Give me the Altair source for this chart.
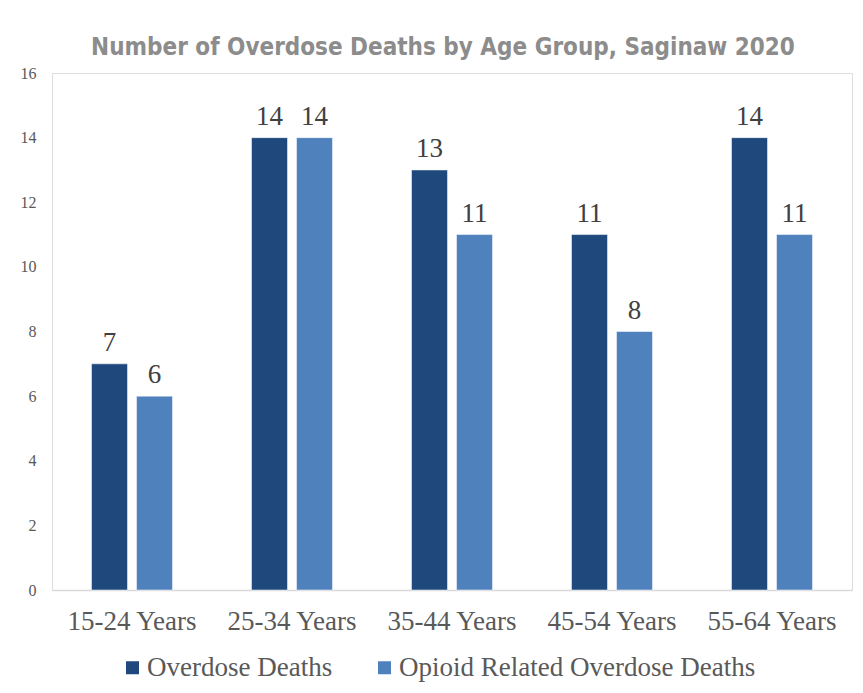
import altair as alt
import pandas as pd

ages = ["15-24 Years", "25-34 Years", "35-44 Years", "45-54 Years", "55-64 Years"]
series = ["Overdose Deaths", "Opioid Related Overdose Deaths"]
overdose = [7, 14, 13, 11, 14]
opioid = [6, 14, 11, 8, 11]
colors = ["#1f497d", "#4f81bd"]
y_ticks = [0, 2, 4, 6, 8, 10, 12, 14, 16]

rows = []
for a, v in zip(ages, overdose):
    rows.append({"age": a, "series": series[0], "value": v})
for a, v in zip(ages, opioid):
    rows.append({"age": a, "series": series[1], "value": v})
df = pd.DataFrame(rows)

serif = "Liberation Serif"

x = alt.X("age:N", sort=ages, title=None,
          scale=alt.Scale(paddingInner=0.494, paddingOuter=0.247),
          axis=alt.Axis(labelFont=serif, labelFontSize=27, labelColor="#595959",
                        labelAngle=0, labelPadding=18, ticks=False,
                        domainColor="#d9d9d9", domainWidth=1.5))
xo = alt.XOffset("series:N", sort=series,
                 scale=alt.Scale(paddingInner=0.2, paddingOuter=0))
y = alt.Y("value:Q", title=None,
          scale=alt.Scale(domain=[0, 16], nice=False),
          axis=alt.Axis(values=y_ticks, labelFont=serif, labelFontSize=16,
                        labelColor="#595959", grid=False, domain=False,
                        ticks=False, labelPadding=16))
color = alt.Color("series:N", sort=series,
                  scale=alt.Scale(domain=series, range=colors),
                  legend=alt.Legend(title=None, orient="none", direction="horizontal",
                                    legendX=67, legendY=581,
                                    labelFont=serif, labelFontSize=27,
                                    labelColor="#595959", symbolType="square",
                                    symbolSize=169, symbolStrokeWidth=0,
                                    labelOffset=1, columnPadding=38,
                                    labelLimit=600))

bars = alt.Chart(df).mark_bar(stroke="white", strokeWidth=0.5).encode(
    x=x, xOffset=xo, y=y, color=color)

labels = alt.Chart(df).mark_text(font=serif, fontSize=27, color="#404040",
                                 baseline="alphabetic", dy=-13).encode(
    x=x, xOffset=xo, y=y, text="value:Q")

chart = alt.layer(bars, labels).properties(
    width=800, height=517,
    autosize=alt.AutoSizeParams(type="none"),
    padding={"left": 44, "top": 65, "right": 3, "bottom": 95},
    title=alt.Title("Number of Overdose Deaths by Age Group, Saginaw 2020",
                    font="DejaVu Sans Condensed, Liberation Sans, sans-serif",
                    fontSize=24, fontWeight="bold",
                    color="#8c8c8c", anchor="middle", offset=5, dx=-9),
).configure_view(stroke=None).configure(background="white")

chart.save("out.html", embed_options={"renderer": "svg", "actions": False})
